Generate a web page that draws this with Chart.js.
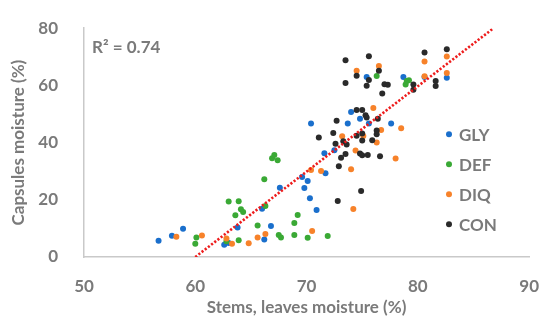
<!DOCTYPE html>
<html><head><meta charset="utf-8">
<script src="https://cdn.jsdelivr.net/npm/chart.js@4/dist/chart.umd.min.js"></script>
<style>html,body{margin:0;padding:0;background:#fff}#wrap{width:550px;height:324px;position:relative}</style>
</head><body><div id="wrap"><canvas id="c" width="550" height="324"></canvas></div>
<script>
// ---- data ----
const seriesNames = ['GLY', 'DEF', 'DIQ', 'CON'];
const glyX = [56.7,57.9,58.9,62.6,63.0,63.8,66.0,66.8,66.2,67.6,69.6,69.8,70.1,70.3,70.9,71.7,71.6,72.5,70.4,73.7,74.0,74.8,75.6,77.6,75.4,78.7,80.6,82.6];
const glyY = [5.7,7.4,9.9,4.3,4.9,10.3,16.9,10.8,6.1,24.2,28.0,24.1,26.6,20.5,16.4,29.3,36.3,37.3,46.7,46.7,50.7,48.3,46.7,46.7,62.9,62.9,62.9,62.7];
const defX = [60.0,60.1,62.8,63.0,63.9,63.6,64.1,64.3,63.9,65.6,66.3,66.2,66.9,67.1,67.4,67.5,67.7,68.9,68.9,69.2,70.1,71.9,76.3,79.0,79.2,78.9];
const defY = [4.6,6.8,5.5,19.4,19.5,14.6,16.7,15.7,5.9,11.0,17.8,27.2,34.5,35.7,33.8,7.7,6.8,7.7,11.9,14.7,6.7,7.3,63.3,61.5,61.8,60.3];
const diqX = [58.3,60.6,62.8,63.3,64.8,65.6,66.3,70.5,70.4,71.3,74.0,74.2,73.2,74.4,75.1,76.3,76.7,76.0,78.5,78.0,74.5,76.5,80.6,80.6,82.6,82.6];
const diqY = [7.1,7.5,6.5,4.6,4.8,6.8,8.0,9.1,30.4,30.1,30.7,16.8,42.2,37.2,42.3,40.0,44.4,52.1,45.0,34.4,65.1,66.8,68.4,63.2,70.1,64.3];
const conX = [72.8,74.9,72.9,73.1,73.5,74.8,75.0,75.5,76.6,72.6,73.3,73.6,75.0,75.9,72.4,71.1,74.5,75.0,76.3,76.3,72.7,75.3,75.4,76.4,74.5,75.0,76.8,75.4,77.0,77.3,73.5,74.5,75.6,76.5,73.5,75.6,79.6,79.6,80.6,82.6,81.6,81.6];
const conY = [19.6,23.1,31.7,34.7,36.0,36.2,35.6,35.7,35.2,39.6,40.5,39.3,40.7,40.8,43.4,41.8,42.4,43.2,44.2,42.9,47.6,49.6,48.8,48.3,51.4,51.4,57.2,59.9,60.4,60.2,60.8,63.4,61.9,65.1,68.8,70.2,60.3,58.5,71.5,72.6,61.5,59.8];
const trendX = [60.0, 86.8];
const trendY = [0, 80];
const r2Label = 'R\u00b2 = 0.74';
const xTicks = [50, 60, 70, 80, 90];
const yTicks = [0, 20, 40, 60, 80];

// ---- styles ----
const colors = ['#1a6fcc', '#3aa935', '#f7822a', '#2a2a2a'];
const textColor = '#7a7a7a';
const FONT = 'Lato';

const toPts = (xs, ys) => xs.map((x, i) => ({x, y: ys[i]}));
const seriesData = [toPts(glyX, glyY), toPts(defX, defY), toPts(diqX, diqY), toPts(conX, conY)];

const datasets = [{
  type: 'line', label: 'trend', data: toPts(trendX, trendY),
  borderColor: '#ee1c1c', borderWidth: 2.6, borderDash: [2.2, 1.8],
  pointRadius: 0, fill: false, order: 0
}];
seriesNames.forEach((n, i) => datasets.push({
  type: 'scatter', label: n, data: seriesData[i],
  backgroundColor: colors[i], borderColor: colors[i], borderWidth: 0,
  pointRadius: 3, order: 4 - i
}));

const overlay = {
  id: 'overlay',
  afterDraw(chart) {
    const ctx = chart.ctx, a = chart.chartArea;
    ctx.save();
    ctx.fillStyle = textColor;
    ctx.textBaseline = 'middle';
    ctx.font = 'bold 17px ' + FONT;
    ctx.fillText(r2Label, a.left + 8, a.top + 19);
    seriesNames.forEach((n, i) => {
      const y = a.top + 106 + 30 * i;
      ctx.beginPath();
      ctx.fillStyle = colors[i];
      ctx.arc(a.left + 365, y, 3, 0, Math.PI * 2);
      ctx.fill();
      ctx.fillStyle = textColor;
      ctx.fillText(n, a.left + 375, y + 1);
    });
    ctx.restore();
  }
};

new Chart(document.getElementById('c'), {
  data: { datasets },
  options: {
    responsive: false, animation: false,
    layout: { padding: { top: 19, right: 20, left: 0, bottom: 0 } },
    plugins: { legend: { display: false }, tooltip: { enabled: false } },
    scales: {
      x: {
        type: 'linear', min: 50, max: 90,
        afterBuildTicks: s => { s.ticks = xTicks.map(v => ({value: v})); },
        afterFit: s => { s.height = 67; },
        grid: { display: false },
        border: { display: true, color: '#c9c9c9', width: 1.5 },
        ticks: { color: textColor, font: { family: FONT, size: 17, weight: 'bold' }, padding: 11 },
        title: { display: true, text: 'Stems, leaves moisture (%)', color: textColor,
                 font: { family: FONT, size: 17, weight: 'bold' }, padding: { top: 0, bottom: 6 } }
      },
      y: {
        type: 'linear', min: 0, max: 80,
        afterBuildTicks: s => { s.ticks = yTicks.map(v => ({value: v})); },
        afterFit: s => { s.width = 84; },
        grid: { display: false },
        border: { display: true, color: '#c9c9c9', width: 1.5 },
        ticks: { color: textColor, font: { family: FONT, size: 17, weight: 'bold' }, padding: 18 },
        title: { display: true, text: 'Capsules moisture (%)', color: textColor,
                 font: { family: FONT, size: 17, weight: 'bold' }, padding: { top: 8, bottom: 0 } }
      }
    }
  },
  plugins: [overlay]
});
</script></body></html>
